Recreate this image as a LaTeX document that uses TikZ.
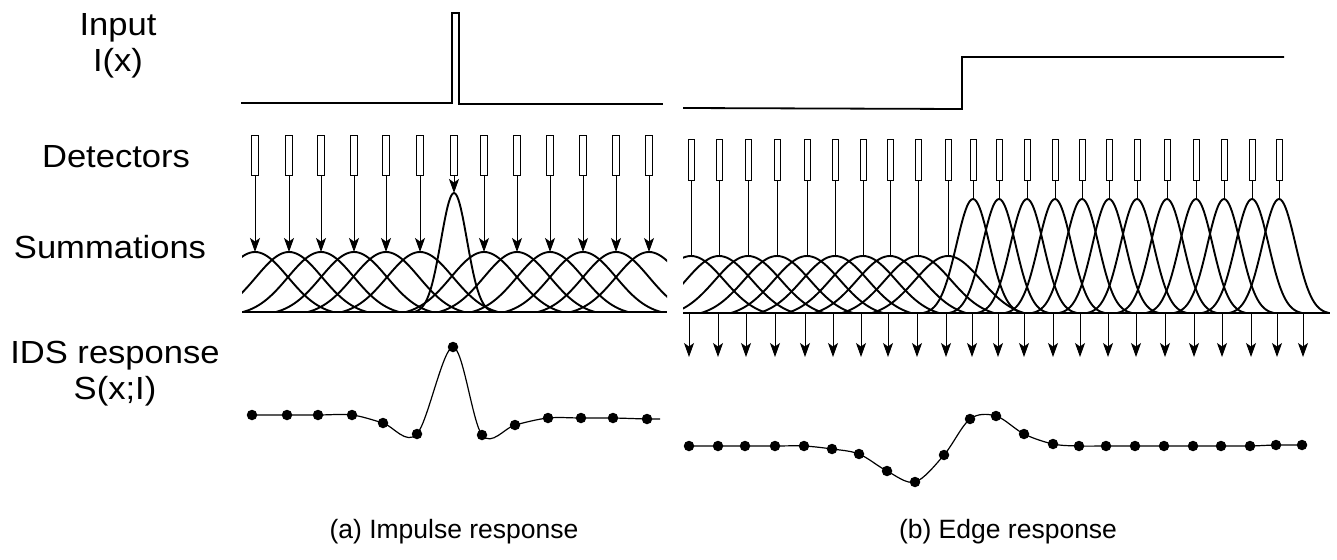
\documentclass[tikz,border=0pt]{standalone}
\usepackage{fontspec}
\setmainfont{Liberation Sans}
\newfontfamily\widesans{Liberation Sans}[FakeStretch=1.08]
\usetikzlibrary{arrows.meta}

\begin{document}
\begin{tikzpicture}[x=1pt,y=-1pt,
  sig/.style={line width=1.8pt, line join=miter},
  det/.style={draw, line width=0.9pt, rectangle, minimum width=7pt, minimum height=40pt, inner sep=0pt},
  detR/.style={det, minimum width=6pt, minimum height=41pt},
  feed/.style={line width=1pt, -{Stealth[length=14pt,width=10pt,inset=3.5pt]}},
  tie/.style={line width=1pt},
  bump/.style={line width=1.9pt},
  axis/.style={line width=2.8pt},
  resp/.style={line width=1.2pt},
  dot/.style={circle, fill=black, inner sep=0pt, minimum size=10.5pt},
  lab/.style={font=\widesans\fontsize{32}{36}\selectfont, align=center, inner sep=0pt},
  captext/.style={font=\fontsize{26.5}{30}\selectfont, inner sep=0pt}]

\useasboundingbox (0,0) rectangle (1337,559);

% row labels
\node[lab] (lInput) at (118,46) {Input\\I(x)};
\node[lab] (lDet) at (116,157) {Detectors};
\node[lab] (lSum) at (110,247) {Summations};
\node[lab] (lIDS) at (115,374) {IDS response\\S(x;I)};

% ---------- (a) impulse ----------
\draw[sig] (241,103) -- (452,103) -- (452,13) -- (459,13) -- (459,104) -- (663,104);

\foreach \x [count=\i] in {255,289,321,354,386,420,454,484,517,550,583,616,649} {
  \node[det] (dL\i) at (\x,155) {};
  \pgfmathsetmacro\pk{\i==7 ? 193 : 252}
  \coordinate (pL\i) at (\x,\pk);
}

\begin{scope}
  \clip (242,0) rectangle (667,330);
  \foreach \x [count=\i] in {255,289,321,354,386,420,454,484,517,550,583,616,649} {
    \ifnum\i=7
      \pgfmathsetmacro\a{\x-40}\pgfmathsetmacro\b{\x+40}
      \pgfmathsetmacro\e{exp(-1600/338)}
      \draw[bump] plot[variable=\t, domain=\a:\b, samples=61, smooth]
        (\t, {312-119*(exp(-((\t-\x)^2)/338)-\e)/(1-\e)});
    \else
      \pgfmathsetmacro\a{\x-78}\pgfmathsetmacro\b{\x+78}
      \pgfmathsetmacro\e{exp(-6084/2178)}
      \draw[bump] plot[variable=\t, domain=\a:\b, samples=61, smooth]
        (\t, {312-60*(exp(-((\t-\x)^2)/2178)-\e)/(1-\e)});
    \fi
  }
\end{scope}
\draw[axis] (242,312) -- (667,312);

\foreach \i in {1,...,13} \draw[feed] (dL\i.south) -- (pL\i);

\foreach \x/\y [count=\i] in {252/415,287/415,318/415,352/415,383/423,417/434,453/347,482/435,515/425,548/418,581/418,613/418,647/419}
  \node[dot] (sL\i) at (\x,\y) {};
\coordinate (sLend) at (660,419);
\draw[resp] plot[smooth, tension=0.55] coordinates {(sL1) (sL2) (sL3) (sL4) (sL5) (sL6) (sL7) (sL8) (sL9) (sL10) (sL11) (sL12) (sL13) (sLend)};

% ---------- (b) edge ----------
\draw[sig] (683,108) -- (962,109) -- (962,57) -- (1284,57);

\foreach \x [count=\i] in {691,719,748,777,807,835,863,890,918,948,973,999,1027,1055,1082,1109,1137,1167,1196,1224,1252,1279} {
  \node[detR] (dR\i) at (\x,159.5) {};
  \pgfmathsetmacro\pk{\i>10 ? 199 : 256}
  \coordinate (pR\i) at (\x,\pk);
}

\begin{scope}
  \clip (683,0) rectangle (1335,330);
  \foreach \x [count=\i] in {691,719,748,777,807,835,863,890,918,948,973,999,1027,1055,1082,1109,1137,1167,1196,1224,1252,1279} {
    \ifnum\i>10
      \pgfmathsetmacro\a{\x-50}\pgfmathsetmacro\b{\x+50}
      \pgfmathsetmacro\e{exp(-2500/544.5)}
      \draw[bump] plot[variable=\t, domain=\a:\b, samples=61, smooth]
        (\t, {313-114*(exp(-((\t-\x)^2)/544.5)-\e)/(1-\e)});
    \else
      \pgfmathsetmacro\a{\x-76}\pgfmathsetmacro\b{\x+76}
      \pgfmathsetmacro\e{exp(-5776/2178)}
      \draw[bump] plot[variable=\t, domain=\a:\b, samples=61, smooth]
        (\t, {313-57*(exp(-((\t-\x)^2)/2178)-\e)/(1-\e)});
    \fi
  }
\end{scope}
\draw[axis] (683,313) -- (1330,313);

\foreach \i in {1,...,22} \draw[tie] (dR\i.south) -- (pR\i);

\foreach \x [count=\i] in {689,718,746,775,805,833,861,888,917,946,972,998,1024,1053,1080,1108,1136,1165,1194,1222,1251,1277,1303} {
  \coordinate (bR\i) at (\x,313);
  \coordinate (tR\i) at (\x,357);
  \draw[feed] (bR\i) -- (tR\i);
}

\foreach \x/\y [count=\i] in {689/446,718/446,745/446,775/446,804/446,832/449,859/454,887/471,915/482,944/455,970/419,996/416,1024/434,1053/444,1079/446,1106/446,1135/446,1164/446,1193/446,1221/446,1250/446,1276/445,1302/445}
  \node[dot] (sR\i) at (\x,\y) {};
\draw[resp] plot[smooth, tension=0.55] coordinates {(sR1) (sR2) (sR3) (sR4) (sR5) (sR6) (sR7) (sR8) (sR9) (sR10) (sR11) (sR12) (sR13) (sR14) (sR15) (sR16) (sR17) (sR18) (sR19) (sR20) (sR21) (sR22) (sR23)};

% captions
\node[captext] (capA) at (454,532) {(a) Impulse response};
\node[captext] (capB) at (1008,532) {(b) Edge response};
\end{tikzpicture}
\end{document}
